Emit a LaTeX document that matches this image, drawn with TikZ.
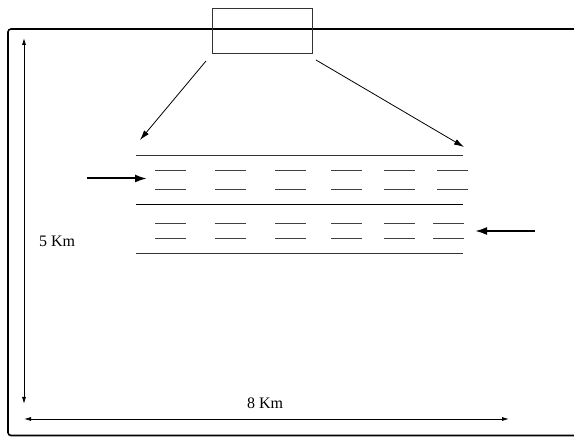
\documentclass[tikz,border=0pt]{standalone}
\usepackage{fontspec}
\setmainfont{Liberation Serif}
\usetikzlibrary{calc,positioning,arrows.meta}
\begin{document}
\begin{tikzpicture}[x=1pt,y=-1pt, font=\fontsize{16}{18}\selectfont,
	edge/.style={line width=1pt},
	lanemark/.style={line width=1pt, black!75},
	dim/.style={{Latex[length=7pt,width=4pt]}-{Latex[length=7pt,width=4pt]}, line width=0.8pt}]
	\useasboundingbox (0,0) rectangle (574,438);
	% frame of the area
	\draw[line width=1.6pt, rounded corners=3pt] (580,29) -- (8,29) -- (8,435.5) -- (580,435.5);
	\node[draw, line width=1pt, black!80, minimum width=100pt, minimum height=45pt, inner sep=0] at (262,31.5) (zone) {};
	\coordinate (zl) at (206,61);
	\coordinate (zr) at (316,60);
	\coordinate (tl) at (140,140);
	\coordinate (tr) at (464,147);
	\draw[-{Latex[length=10pt,width=6pt]}, line width=0.8pt] (zl) -- (tl);
	\draw[-{Latex[length=10pt,width=6pt]}, line width=0.8pt] (zr) -- (tr);
	% road
	\draw[edge, black!80] (136,155.5) -- (463,155.5);
	\draw[edge, line width=1.4pt] (136,204.5) -- (463,204.5);
	\draw[edge, black!80] (136,254) -- (463,254);
	\foreach \x in {155,215,275,331,384,437}{
		\draw[lanemark] (\x,171) -- ++(31,0);
		\draw[lanemark] (\x,189.5) -- ++(31,0);
		}
	\foreach \x in {155,215,275,331,384,433}{
		\draw[lanemark] (\x,223.5) -- ++(31,0);
		\draw[lanemark] (\x,239) -- ++(31,0);
		}
	\coordinate (ina) at (87,178.5);
	\coordinate (inb) at (147,178.5);
	\coordinate (outa) at (535,231);
	\coordinate (outb) at (475,231);
	\draw[-{Latex[length=12pt,width=8pt]}, line width=2pt] (ina) -- (inb);
	\draw[-{Latex[length=12pt,width=8pt]}, line width=2pt] (outa) -- (outb);
	% dimensions
	\coordinate (vt) at (24,38);
	\coordinate (vb) at (24,404);
	\coordinate (hl) at (24,419);
	\coordinate (hr) at (509,419);
	\draw[dim] (vt) -- (vb);
	\draw[dim] (hl) -- (hr);
	\node at (57,241) (height) {5 Km};
	\node at (265,403) (width) {8 Km};
\end{tikzpicture}
\end{document}
